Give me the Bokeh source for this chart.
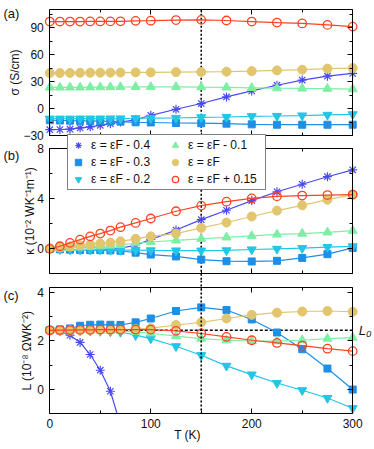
from bokeh.plotting import figure
from bokeh.models import (LinearAxis, FixedTicker, Span, Label, Legend,
                          LegendItem, Range1d)
from bokeh.layouts import column
from bokeh.embed import file_html
from bokeh.resources import INLINE

# ---------------- data ----------------
T = [0, 10, 20, 30, 40, 50, 60, 70, 85, 100, 125, 150, 175, 200, 225, 250, 275, 300]

series_labels = ["ε = εF - 0.4", "ε = εF - 0.3", "ε = εF - 0.2",
                 "ε = εF - 0.1", "ε = εF", "ε = εF + 0.15"]

# (a) electrical conductivity sigma (S/cm)
sig_m04 = [-23.5, -23.3, -23.0, -21.5, -20.3, -18.7, -16.8, -15.0, -12.5, -7.5, -0.8, 5.6, 13.0, 19.7, 26.0, 31.7, 36.1, 39.1]
sig_m03 = [-13.0, -13.3, -13.5, -13.7, -13.8, -14.0, -14.2, -14.5, -15.3, -15.5, -16.1, -16.3, -16.8, -17.6, -18.0, -18.0, -18.0, -18.0]
sig_m02 = [-11.3, -11.3, -11.3, -11.2, -11.2, -11.2, -11.1, -11.1, -10.8, -10.7, -10.5, -9.8, -9.4, -8.6, -8.3, -7.8, -7.1, -6.4]
sig_m01 = [23.5, 23.5, 23.6, 23.6, 23.7, 23.8, 23.9, 24.0, 24.2, 24.2, 24.2, 23.8, 23.5, 23.1, 22.7, 22.4, 22.2, 21.6]
sig_ef = [39.5, 39.6, 39.7, 39.8, 39.9, 40.0, 40.0, 40.1, 40.3, 40.3, 40.6, 40.8, 41.1, 41.7, 42.5, 43.3, 44.5, 45.1]
sig_p015 = [96.9, 96.9, 96.9, 96.9, 97.0, 97.0, 97.1, 97.2, 97.7, 97.9, 98.6, 98.8, 98.1, 96.9, 95.8, 94.8, 93.2, 91.3]

# (b) thermal conductivity kappa (1e-2 W/K/m)
kap_m04 = [0.0, -0.05, -0.06, -0.06, -0.05, -0.04, -0.02, 0.05, 0.3, 0.75, 1.5, 2.33, 3.08, 3.85, 4.55, 5.15, 5.75, 6.3]
kap_m03 = [0.0, -0.03, -0.06, -0.08, -0.1, -0.1, -0.12, -0.15, -0.3, -0.45, -0.6, -0.85, -0.98, -1.0, -0.95, -0.72, -0.42, 0.08]
kap_m02 = [0.0, -0.02, -0.04, -0.05, -0.06, -0.07, -0.08, -0.09, -0.1, -0.12, -0.13, -0.14, -0.12, -0.05, 0.0, 0.06, 0.14, 0.2]
kap_m01 = [0.0, 0.04, 0.08, 0.12, 0.17, 0.22, 0.27, 0.32, 0.45, 0.55, 0.68, 0.8, 0.92, 1.03, 1.15, 1.22, 1.32, 1.45]
kap_ef = [0.05, 0.12, 0.2, 0.28, 0.35, 0.43, 0.5, 0.6, 0.8, 1.0, 1.22, 1.67, 2.1, 2.58, 3.05, 3.47, 3.92, 4.33]
kap_p015 = [0.0, 0.21, 0.48, 0.74, 1.0, 1.22, 1.46, 1.73, 2.07, 2.42, 3.0, 3.45, 3.76, 4.02, 4.19, 4.25, 4.29, 4.33]

# (c) Lorenz number L (1e-8 Ohm W / K^2)
T_L_m04 = [0, 10, 20, 30, 40, 50, 60, 70]
L_m04 = [2.44, 2.4, 2.24, 1.94, 1.44, 0.79, -0.08, -1.48]
L_m03 = [2.45, 2.48, 2.52, 2.63, 2.67, 2.68, 2.67, 2.66, 2.77, 2.93, 3.24, 3.39, 3.28, 2.89, 2.35, 1.66, 0.86, -0.01]
L_m02 = [2.44, 2.44, 2.44, 2.43, 2.42, 2.41, 2.39, 2.37, 2.24, 2.1, 1.78, 1.41, 0.97, 0.61, 0.26, -0.04, -0.36, -0.78]
L_m01 = [2.44, 2.44, 2.44, 2.44, 2.44, 2.43, 2.42, 2.41, 2.38, 2.32, 2.2, 2.1, 2.03, 2.0, 1.99, 2.03, 2.1, 2.14]
L_ef = [2.44, 2.44, 2.44, 2.45, 2.45, 2.46, 2.46, 2.47, 2.49, 2.53, 2.66, 2.77, 2.93, 3.08, 3.17, 3.22, 3.24, 3.21]
L_p015 = [2.44, 2.45, 2.45, 2.46, 2.46, 2.47, 2.47, 2.47, 2.47, 2.47, 2.42, 2.31, 2.17, 2.03, 1.92, 1.81, 1.68, 1.58]

L0 = 2.44
T_mark = 150

x_bounds = (0, 300)
x_ticks = [0, 100, 200, 300]
x_minor = [50, 150, 250]

a_bounds = (-30, 110)
a_ticks = [-30, 0, 30, 60, 90]
a_minor = [-15, 15, 45, 75, 105]
b_bounds = (-2, 8)
b_ticks = [0, 4, 8]
b_minor = [-2, 2, 6]
c_bounds = (-1, 4.2)
c_ticks = [0, 2, 4]
c_minor = [-1, 1, 3]

# ---------------- layout / styles ----------------
FONT = "Liberation Sans"
TXT = "#111111"
colors = ["#4a4af2", "#1e8fe6", "#22c6e6", "#7defa5", "#e2c66e", "#ff4422"]
markers = ["asterisk", "square", "inverted_triangle", "triangle", "circle", "circle"]
sizes = [9, 7, 9, 9, 9, 8.5]

W = 374
X_RANGE = (-48.83, 321.6)       # box 0..300 spans page x 49.3..352.2
AB_H = 280
A_RANGE = (-191.5, 120.36)      # -30..110 spans page y 135..9.3
B_RANGE = (-2.518, 19.79)       # -2..8 spans page y 273.5..148
C_H = 169
C_RANGE = (-1, 4.502)           # -1..4.2 spans page y 413..287.3


def base_fig(height, yr, bottom):
    p = figure(width=W, height=height, x_range=Range1d(*X_RANGE), y_range=Range1d(*yr),
               min_border_left=0, min_border_right=0, min_border_top=0,
               min_border_bottom=bottom, toolbar_location=None, output_backend="svg",
               x_axis_location=None, y_axis_location=None)
    p.grid.visible = False
    p.outline_line_color = None
    p.background_fill_color = "white"
    p.border_fill_color = "white"
    return p


def tick_style(ax):
    ax.major_tick_out = 0
    ax.minor_tick_out = 0
    ax.major_tick_in = 5
    ax.minor_tick_in = 3
    ax.axis_line_color = "black"
    ax.major_tick_line_color = "black"
    ax.minor_tick_line_color = "black"
    ax.major_label_text_font = FONT
    ax.major_label_text_font_size = "12px"
    ax.major_label_text_color = TXT
    ax.axis_label_text_font = FONT
    ax.axis_label_text_font_size = "12px"
    ax.axis_label_text_font_style = "normal"
    ax.axis_label_text_color = TXT


def mirror_axis(p, side, loc, bounds, ticks, minor, rname=None):
    # unlabelled border with inward ticks (major and minor lengths)
    for i, (tk, ln) in enumerate([(ticks, 5), (minor, 3)]):
        ax = LinearAxis(fixed_location=loc, bounds=bounds,
                        ticker=FixedTicker(ticks=[], minor_ticks=tk))
        if rname is not None:
            ax.y_range_name = rname
        tick_style(ax)
        ax.minor_tick_in = ln
        if i == 1:
            ax.axis_line_color = None
        p.add_layout(ax, side)


def left_axis(p, bounds, ticks, minor, label, standoff, rname=None):
    ax = LinearAxis(fixed_location=0, bounds=bounds,
                    ticker=FixedTicker(ticks=ticks, minor_ticks=minor))
    if rname is not None:
        ax.y_range_name = rname
    tick_style(ax)
    ax.major_label_standoff = 6
    ax.axis_label = label
    ax.axis_label_standoff = standoff
    p.add_layout(ax, "left")


def box(p, ybounds, yt, ym, rname=None, bottom=True):
    mirror_axis(p, "right", x_bounds[1], ybounds, yt, ym, rname)
    mirror_axis(p, "above", ybounds[1], x_bounds, x_ticks, x_minor, rname)
    if bottom:
        mirror_axis(p, "below", ybounds[0], x_bounds, x_ticks, x_minor, rname)


def draw(p, xs_list, ys_list, rname="default"):
    rends = []
    for i, (xs, ys) in enumerate(zip(xs_list, ys_list)):
        c = colors[i]
        p.line(xs, ys, line_color=c, line_width=1.2, y_range_name=rname)
        if i == 5:
            r = p.scatter(xs, ys, marker=markers[i], size=sizes[i], fill_color=None,
                          line_color=c, line_width=1.3, y_range_name=rname)
        elif i == 0:
            r = p.scatter(xs, ys, marker=markers[i], size=sizes[i], line_color=c,
                          line_width=1.2, y_range_name=rname)
        else:
            r = p.scatter(xs, ys, marker=markers[i], size=sizes[i], fill_color=c,
                          line_color=c, y_range_name=rname)
        rends.append(r)
    return rends


def panel_label(p, text, y):
    p.add_layout(Label(x=3, y=y, x_units="screen", y_units="screen", text=text,
                       text_font=FONT, text_font_size="13px", text_baseline="middle",
                       text_color=TXT))


# ---------- panels (a) + (b) share one canvas ----------
pab = base_fig(AB_H, A_RANGE, 0)
pab.extra_y_ranges = {"b": Range1d(*B_RANGE)}

# vertical marker line at T = 150 K (from top of (a) downward through (b))
pab.segment(x0=[T_mark], y0=[a_bounds[1]], x1=[T_mark], y1=[A_RANGE[0]],
            line_color="black", line_dash="2 2", line_width=1.6)

draw(pab, [T] * 6, [sig_m04, sig_m03, sig_m02, sig_m01, sig_ef, sig_p015])
rb = draw(pab, [T] * 6, [kap_m04, kap_m03, kap_m02, kap_m01, kap_ef, kap_p015], "b")

left_axis(pab, a_bounds, a_ticks, a_minor, "σ (S/cm)", -2)
box(pab, a_bounds, a_ticks, a_minor)
left_axis(pab, b_bounds, b_ticks, b_minor, "κ (10⁻² WK⁻¹m⁻¹)", -3, "b")
box(pab, b_bounds, b_ticks, b_minor, "b")

panel_label(pab, "(a)", 267)
panel_label(pab, "(b)", 125)

legend = Legend(items=[LegendItem(label=series_labels[i], renderers=[rb[i]]) for i in range(6)],
                location=(67, 90), ncols=2, label_text_font=FONT,
                label_text_font_size="12px", label_text_color=TXT,
                glyph_height=16, glyph_width=16, label_height=16, label_width=75,
                label_standoff=5, spacing=1, padding=2, margin=0,
                border_line_color="black", border_line_width=1,
                background_fill_color="white", background_fill_alpha=1.0)
pab.add_layout(legend, "center")

# ---------- panel (c) ----------
pc = base_fig(C_H, C_RANGE, 36)
pc.add_layout(Span(location=T_mark, dimension="height", line_color="black",
                   line_dash="2 2", line_width=1.6))
pc.line(x=[x_bounds[0], x_bounds[1]], y=[L0, L0], line_color="black",
        line_dash="3 2", line_width=1.5)
draw(pc, [T_L_m04] + [T] * 5, [L_m04, L_m03, L_m02, L_m01, L_ef, L_p015])

left_axis(pc, c_bounds, c_ticks, c_minor, "L (10⁻⁸ ΩWK⁻²)", 0)
box(pc, c_bounds, c_ticks, c_minor, bottom=False)
xc = LinearAxis(bounds=x_bounds, ticker=FixedTicker(ticks=x_ticks, minor_ticks=x_minor))
tick_style(xc)
xc.major_label_standoff = 5
xc.axis_label = "T (K)"
xc.axis_label_standoff = -3
pc.add_layout(xc, "below")

pc.add_layout(Label(x=x_bounds[1], y=L0, x_offset=6, text="L₀", text_font=FONT,
                    text_font_size="13px", text_font_style="italic",
                    text_baseline="middle", text_color=TXT))
panel_label(pc, "(c)", 118)

layout = column(pab, pc, spacing=0)
open("out.html", "w").write(file_html(layout, INLINE))
